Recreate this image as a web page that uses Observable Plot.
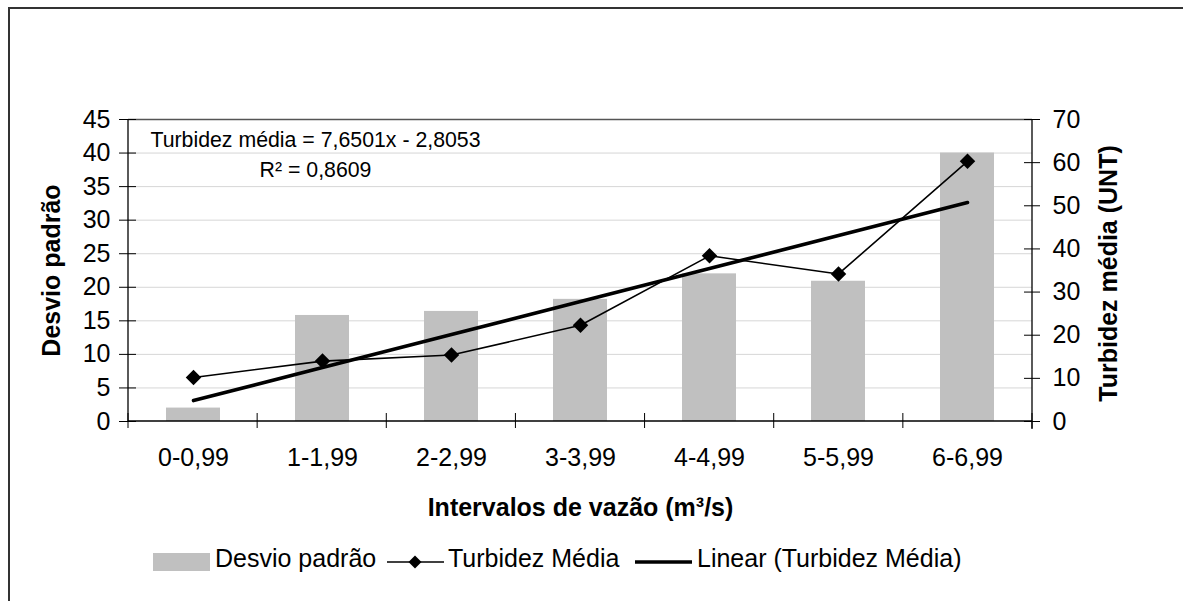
<!DOCTYPE html>
<html>
<head>
<meta charset="utf-8">
<script src="https://cdn.jsdelivr.net/npm/d3@7"></script>
<script src="https://cdn.jsdelivr.net/npm/@observablehq/plot@0.6"></script>
<style>
  html, body { margin: 0; padding: 0; background: #fff; }
  body { font-family: "Liberation Sans", Arial, sans-serif; }
  #wrap { position: relative; width: 1183px; height: 601px; overflow: hidden; }
  #frame { position: absolute; left: 8px; top: 7px; width: 1300px; height: 700px;
           border-left: 2px solid #333; border-top: 2px solid #333; box-sizing: border-box; }
  #chart { position: absolute; left: 0; top: 0; }
  .lg { position: absolute; font-size: 25px; line-height: 25px; color: #000; white-space: nowrap; }
  .sw { position: absolute; }
</style>
</head>
<body>
<div id="wrap">
  <div id="frame"></div>
  <div id="chart"></div>
  <div id="legend"></div>
</div>
<script>
// ---- data ----
const categories = ["0-0,99", "1-1,99", "2-2,99", "3-3,99", "4-4,99", "5-5,99", "6-6,99"];
const desvioPadrao = [2.0, 15.8, 16.4, 18.2, 22.0, 20.9, 40.0];
const turbidezMedia = [10.2, 14.0, 15.4, 22.3, 38.4, 34.2, 60.3];
const trendSlope = 7.6501;
const trendIntercept = -2.8053;
const trendR2 = 0.8609;
const leftTicks = [0, 5, 10, 15, 20, 25, 30, 35, 40, 45];
const rightTicks = [0, 10, 20, 30, 40, 50, 60, 70];
const leftMax = 45, rightMax = 70;
const seriesNames = ["Desvio padrão", "Turbidez Média", "Linear (Turbidez Média)"];
const axisTitles = {x: "Intervalos de vazão (m³/s)", left: "Desvio padrão", right: "Turbidez média (UNT)"};
const trendLabels = [
  "Turbidez média = " + trendSlope.toFixed(4).replace(".", ",") + "x - " + Math.abs(trendIntercept).toFixed(4).replace(".", ","),
  "R² = " + trendR2.toFixed(4).replace(".", ",")
];

// right-axis values expressed in left-axis units
const toLeft = v => v * leftMax / rightMax;
const rows = categories.map((c, i) => ({
  cat: c,
  desvio: desvioPadrao[i],
  turb: toLeft(turbidezMedia[i]),
  trend: toLeft(trendSlope * (i + 1) + trendIntercept)
}));

// axis lines + category boundary ticks drawn from the layout
function frameAxes(index, scales, values, dim) {
  const {width, height, marginLeft, marginRight, marginTop, marginBottom} = dim;
  const n = categories.length;
  const x0 = marginLeft, x1 = width - marginRight, yb = height - marginBottom;
  const step = (x1 - x0) / n;
  const g = d3.create("svg:g").attr("stroke", "#000").attr("fill", "none");
  g.append("line").attr("x1", x0).attr("x2", x0).attr("y1", marginTop).attr("y2", yb).attr("stroke-width", 1.3);
  g.append("line").attr("x1", x1).attr("x2", x1).attr("y1", marginTop).attr("y2", yb + 8).attr("stroke-width", 1.3);
  g.append("line").attr("x1", x0).attr("x2", x1).attr("y1", yb).attr("y2", yb).attr("stroke-width", 1.6);
  for (let i = 0; i <= n; i++) {
    g.append("line").attr("x1", x0 + i * step).attr("x2", x0 + i * step)
      .attr("y1", yb - 8).attr("y2", yb + 7).attr("stroke-width", 1);
  }
  return g.node();
}

const font = "'Liberation Sans', Arial, sans-serif";

const chart = Plot.plot({
  width: 1183,
  height: 530,
  marginTop: 119,
  marginBottom: 109,
  marginLeft: 128,
  marginRight: 151,
  style: {fontFamily: font, fontSize: "25px", background: "transparent", overflow: "visible", color: "#000"},
  x: {type: "band", domain: categories, paddingInner: 0.582, paddingOuter: 0.291, axis: null},
  y: {domain: [0, leftMax], axis: null},
  marks: [
    Plot.gridY(leftTicks.filter(v => v > 0 && v < leftMax), {stroke: "#d6d6d6", strokeOpacity: 1}),
    Plot.barY(rows, {x: "cat", y: "desvio", fill: "#c0c0c0"}),
    Plot.ruleY([leftMax], {stroke: "#555", strokeWidth: 1.3}),
    frameAxes,
    Plot.axisY(leftTicks, {anchor: "left", tickSize: 9, tickPadding: 9, label: null, fontSize: 25}),
    Plot.axisY(leftTicks, {anchor: "left", tickSize: -8, tickFormat: () => "", label: null}),
    Plot.axisY(rightTicks.map(toLeft), {anchor: "right", tickSize: 7, tickPadding: 13, label: null,
      tickFormat: d => String(Math.round(d * rightMax / leftMax)), fontSize: 25}),
    Plot.axisY(rightTicks.map(toLeft), {anchor: "right", tickSize: -9, tickFormat: () => "", label: null}),
    Plot.axisX(categories, {tickSize: 0, tickPadding: 27, label: null, fontSize: 25}),
    Plot.line(rows, {x: "cat", y: "turb", stroke: "#000", strokeWidth: 1.6}),
    Plot.dot(rows, {x: "cat", y: "turb", symbol: "diamond2", r: 7, fill: "#000", stroke: "none"}),
    Plot.line(rows, {x: "cat", y: "trend", stroke: "#000", strokeWidth: 3.6}),
    Plot.text([trendLabels[0]], {frameAnchor: "top-left", dx: 187, dy: 21, textAnchor: "middle", lineAnchor: "middle", fontSize: 21.3}),
    Plot.text([trendLabels[1]], {frameAnchor: "top-left", dx: 187, dy: 51, textAnchor: "middle", lineAnchor: "middle", fontSize: 21.3}),
    Plot.text([axisTitles.left], {frameAnchor: "left", dx: -77, rotate: -90, textAnchor: "middle", lineAnchor: "middle", fontWeight: "bold", fontSize: 25}),
    Plot.text([axisTitles.right], {frameAnchor: "right", dx: 76, dy: 3, rotate: -90, textAnchor: "middle", lineAnchor: "middle", fontWeight: "bold", fontSize: 25}),
    Plot.text([axisTitles.x], {frameAnchor: "bottom", dy: 86, textAnchor: "middle", lineAnchor: "middle", fontWeight: "bold", fontSize: 25, letterSpacing: "0.6px"})
  ]
});
document.getElementById("chart").appendChild(chart);

// ---- legend (HTML, below the plot area) ----
const legend = document.getElementById("legend");
legend.innerHTML = `
  <div class="sw" style="left:153px; top:553px; width:57px; height:18px; background:#c0c0c0;"></div>
  <div class="lg" style="left:215px; top:546px;">${seriesNames[0]}</div>
  <svg class="sw" style="left:387px; top:550px;" width="57" height="24">
    <line x1="0" x2="57" y1="12" y2="12" stroke="#000" stroke-width="1.6"/>
    <path d="M28,5.5 L34.5,12 L28,18.5 L21.5,12 Z" fill="#000"/>
  </svg>
  <div class="lg" style="left:448px; top:546px;">${seriesNames[1]}</div>
  <svg class="sw" style="left:635px; top:550px;" width="57" height="24">
    <line x1="0" x2="57" y1="12" y2="12" stroke="#000" stroke-width="3.6"/>
  </svg>
  <div class="lg" style="left:697px; top:546px;">${seriesNames[2]}</div>
`;
</script>
</body>
</html>
